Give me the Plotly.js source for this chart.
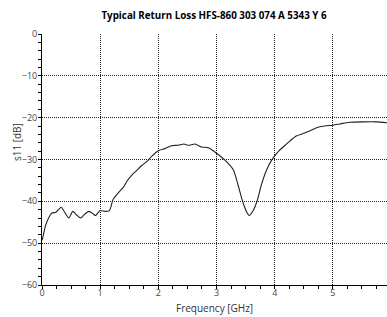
<!DOCTYPE html>
<html>
<head>
<meta charset="utf-8">
<script src="https://cdn.plot.ly/plotly-3.0.1.min.js"></script>
<style>html,body{margin:0;padding:0;background:#fff;}#chart{width:387px;height:317px;}</style>
</head>
<body>
<div id="chart"></div>
<script>
const freqGHz = [0.0, 0.01, 0.06, 0.12, 0.17, 0.24, 0.33, 0.39, 0.46, 0.53, 0.59, 0.66, 0.74, 0.81, 0.88, 0.92, 1.0, 1.08, 1.16, 1.22, 1.31, 1.40, 1.46, 1.54, 1.63, 1.71, 1.80, 1.88, 2.0, 2.11, 2.23, 2.34, 2.44, 2.52, 2.63, 2.74, 2.86, 3.0, 3.14, 3.29, 3.37, 3.45, 3.52, 3.56, 3.63, 3.70, 3.77, 3.86, 3.95, 4.06, 4.18, 4.26, 4.37, 4.49, 4.60, 4.72, 4.86, 5.0, 5.12, 5.29, 5.52, 5.75, 5.93];
const s11dB = [-49.3, -48.9, -45.8, -43.8, -42.8, -42.6, -41.4, -42.6, -44.0, -42.4, -43.2, -44.0, -43.0, -42.4, -43.0, -43.4, -42.2, -42.4, -42.2, -39.6, -38.0, -36.6, -35.2, -33.8, -32.6, -31.5, -30.5, -29.3, -27.9, -27.4, -26.7, -26.6, -26.3, -26.6, -26.3, -27.0, -27.2, -28.5, -30.1, -32.5, -36.1, -40.1, -42.6, -43.4, -42.2, -39.8, -36.1, -32.5, -30.1, -28.1, -26.6, -25.6, -24.4, -23.8, -23.2, -22.4, -22.0, -21.8, -21.5, -21.1, -21.0, -21.0, -21.2];
const chartTitle = "Typical Return Loss HFS-860 303 074 A 5343 Y 6";
const xTitle = "Frequency [GHz]";
const yTitle = "s11 [dB]";

const fontFam = "Open Sans, Noto Sans, sans-serif";
const axisCommon = {
  showline: true, linecolor: '#000', linewidth: 1,
  showgrid: true, gridcolor: '#222', gridwidth: 1, griddash: '1px,1px',
  zeroline: false,
  ticks: 'outside', ticklen: 3, tickcolor: '#000', tickwidth: 1,
  tickfont: {family: fontFam, size: 9, color: '#444'},
};
Plotly.newPlot('chart', [{
  x: freqGHz, y: s11dB, type: 'scatter', mode: 'lines',
  line: {color: '#222', width: 1.1, shape: 'spline', smoothing: 0.6},
  hoverinfo: 'skip'
}], {
  width: 387, height: 317,
  margin: {l: 42, r: 0, t: 34, b: 32},
  paper_bgcolor: '#fff', plot_bgcolor: '#fff',
  showlegend: false,
  title: {text: '<b>' + chartTitle + '</b>', font: {family: fontFam, size: 9.8, color: '#000'}, x: 0.553, xanchor: 'center', y: 0.963, yanchor: 'top'},
  xaxis: Object.assign({}, axisCommon, {
    range: [0, 5.93], dtick: 1, tick0: 0,
    ticklabelstandoff: -4,
    minor: {dtick: 0.25, ticks: 'outside', ticklen: 3, tickcolor: '#000', showgrid: false}
  }),
  yaxis: Object.assign({}, axisCommon, {
    range: [-60, 0], dtick: 10, tick0: 0,
    ticklabelstandoff: -1,
    minor: {dtick: 2, ticks: 'outside', ticklen: 3, tickcolor: '#000', showgrid: false}
  }),
  annotations: [
    {text: xTitle, xref: 'paper', yref: 'paper', x: 0.5, y: -0.09, xanchor: 'center', yanchor: 'middle', showarrow: false, font: {family: fontFam, size: 10, color: '#333'}},
    {text: yTitle, xref: 'paper', yref: 'paper', x: -0.072, y: 0.57, xanchor: 'center', yanchor: 'middle', textangle: -90, showarrow: false, font: {family: fontFam, size: 10, color: '#333'}}
  ]
}, {staticPlot: true, displayModeBar: false});
</script>
</body>
</html>
